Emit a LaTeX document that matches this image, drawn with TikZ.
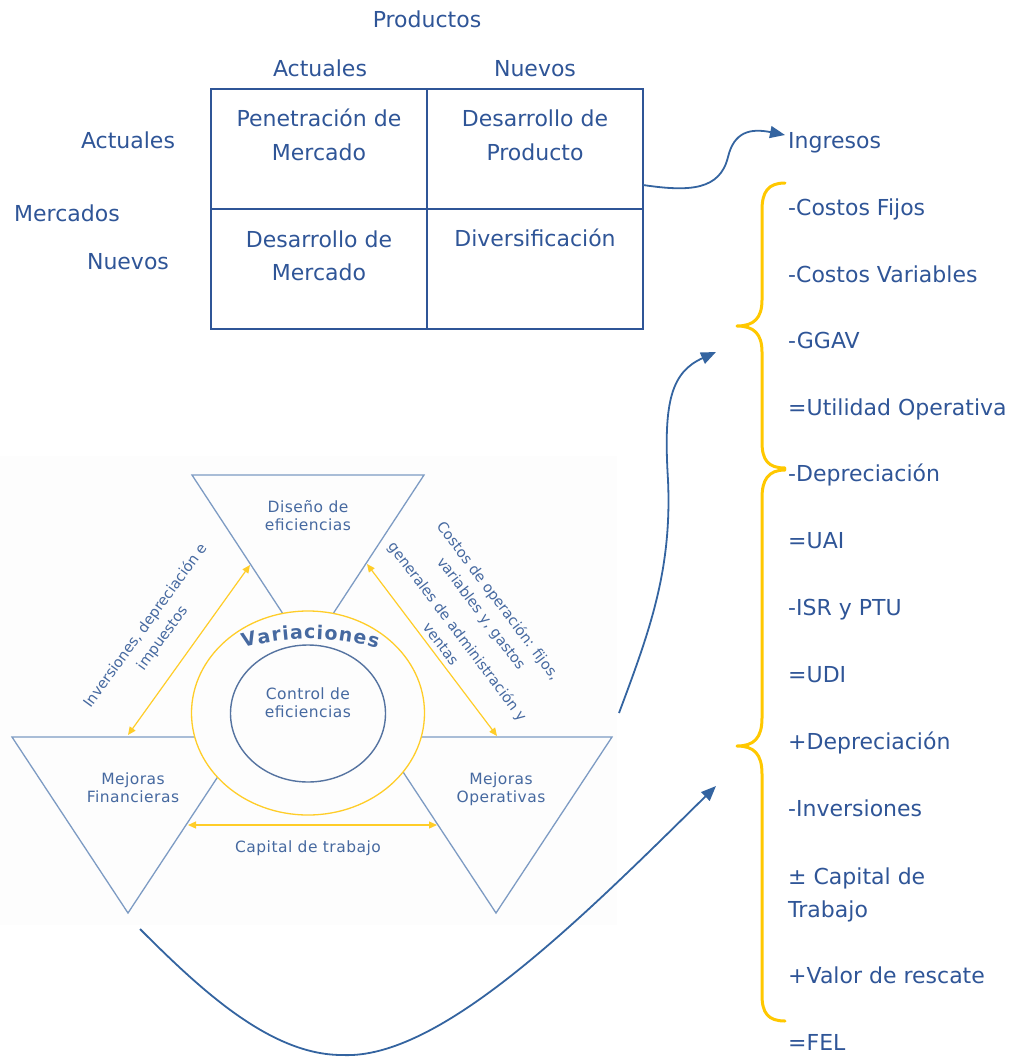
\documentclass[tikz,border=0pt]{standalone}
\usepackage{fontspec}
\setmainfont{DejaVu Sans}
\newfontfamily\trifont[LetterSpace=3]{DejaVu Sans}
\usetikzlibrary{arrows.meta,shapes.geometric}

\definecolor{ink}{RGB}{47,85,151}
\definecolor{wire}{RGB}{52,100,160}
\definecolor{tri}{RGB}{125,155,195}
\definecolor{ring}{RGB}{255,205,40}
\definecolor{soft}{RGB}{70,105,160}
\definecolor{core}{RGB}{85,115,160}
\definecolor{panel}{RGB}{253,253,253}
\definecolor{gold}{RGB}{255,200,0}

\tikzset{
  big/.style={font=\fontsize{22}{34}\selectfont, text=ink, inner sep=0pt, anchor=base},
  item/.style={big, anchor=base west},
  small/.style={font=\trifont\fontsize{15.5}{18}\selectfont, text=soft, inner sep=0pt, anchor=base},
  slant/.style={font=\fontsize{14.5}{21}\selectfont, text=soft, inner sep=0pt, align=center},
  varl/.style={font=\fontsize{19}{19}\selectfont\bfseries, text=soft, inner sep=0pt, anchor=base},
  cell/.style={draw=ink, line width=2pt, minimum width=216pt, minimum height=120pt, inner sep=0pt},
  flow/.style={draw=wire, line width=1.8pt, -{Triangle[length=15pt,width=12pt]}},
  tline/.style={draw=tri, line width=1.3pt, line join=miter},
  link/.style={draw=ring, line width=1.2pt, {Triangle[length=8pt,width=7pt]}-{Triangle[length=8pt,width=7pt]}},
  brace/.style={draw=gold, line width=3pt, line cap=round, line join=round},
}

\begin{document}
\begin{tikzpicture}[x=1pt,y=-1pt]
\useasboundingbox (0,0) rectangle (1013,1057);

% ---------- Ansoff matrix ----------
\node[big] (prod) at (427,28) {Productos};
\node[big] (colA) at (320,77) {Actuales};
\node[big] (colN) at (535,77) {Nuevos};
\node[big] (rowA) at (128,148) {Actuales};
\node[big] (merc) at (67,221) {Mercados};
\node[big] (rowN) at (128,269) {Nuevos};

\node[cell] (c11) at (319,149) {};
\node[cell] (c12) at (535,149) {};
\node[cell] (c21) at (319,269) {};
\node[cell] (c22) at (535,269) {};

\node[big] (t11a) at (319,126) {Penetración de};
\node[big] (t11b) at (319,160) {Mercado};
\node[big] (t12a) at (535,126) {Desarrollo de};
\node[big] (t12b) at (535,160) {Producto};
\node[big] (t21a) at (319,247) {Desarrollo de};
\node[big] (t21b) at (319,280) {Mercado};
\node[big] (t22a) at (535,246) {Diversificación};

% ---------- income statement column ----------
\node[item] (ing) at (788,148) {Ingresos};
\node[item] (i1)  at (788,215) {-Costos Fijos};
\node[item] (i2)  at (788,282) {-Costos Variables};
\node[item] (i3)  at (788,348) {-GGAV};
\node[item] (i4)  at (788,415) {=Utilidad Operativa};
\node[item] (i5)  at (788,481) {-Depreciación};
\node[item] (i6)  at (788,548) {=UAI};
\node[item] (i7)  at (788,615) {-ISR y PTU};
\node[item] (i8)  at (788,682) {=UDI};
\node[item] (i9)  at (788,749) {+Depreciación};
\node[item] (i10) at (788,816) {-Inversiones};
\node[item] (i11) at (788,884) {± Capital de};
\node[item] (i11b) at (788,917) {Trabajo};
\node[item] (i12) at (788,983) {+Valor de rescate};
\node[item] (i13) at (788,1050) {=FEL};

% braces
\draw[brace] (785,183) .. controls (768,183) and (762,192) .. (762,210) -- (762,300)
  .. controls (762,318) and (754,326) .. (737,326)
  .. controls (754,326) and (762,334) .. (762,352) -- (762,442)
  .. controls (762,460) and (768,468) .. (785,468);
\draw[brace] (785,470) .. controls (768,470) and (762,480) .. (762,498) -- (762,718)
  .. controls (762,738) and (754,746) .. (737,746)
  .. controls (754,746) and (762,754) .. (762,774) -- (762,995)
  .. controls (762,1013) and (768,1021) .. (785,1021);

% ---------- efficiency triangle ----------
\fill[panel] (0,456) rectangle (617,925);
\draw[tline] (192,475) -- (424,475) -- (308,652) -- cycle;
\draw[tline] (12,737) -- (244,737) -- (128,913) -- cycle;
\draw[tline] (380,737) -- (612,737) -- (496,913) -- cycle;

\node[draw=ring, fill=panel, line width=1.3pt, ellipse, minimum width=233pt, minimum height=204pt, inner sep=0pt] (outer) at (308,713) {};
\node[draw=core, line width=1.4pt, ellipse, minimum width=155pt, minimum height=137pt, inner sep=0pt] (inner) at (308,713.5) {};

\node[small] (dis1) at (308,512) {Diseño de};
\node[small] (dis2) at (308,530) {eficiencias};
\node[small] (ctl1) at (308,699.5) {Control de};
\node[small] (ctl2) at (308,717.5) {eficiencias};
\node[small] (fin1) at (133,784.5) {Mejoras};
\node[small] (fin2) at (133,802.5) {Financieras};
\node[small] (ope1) at (501,784.5) {Mejoras};
\node[small] (ope2) at (501,802.5) {Operativas};
\node[small] (cap)  at (308,852.5) {Capital de trabajo};

\foreach \ch/\px [count=\k] in {V/250.3, a/265, r/277, i/286, a/296.8, c/309.8, i/319.7, o/330.5, n/344.8, e/359, s/372}{
  \pgfmathsetmacro\py{639+(\px-309)*(\px-309)/486}
  \pgfmathsetmacro\ang{atan((309-\px)/243)}
  \node[varl, rotate=\ang] (var\k) at (\px,\py) {\ch};
}

\node[slant, rotate=54] (lefttxt) at (154,632) {Inversiones, depreciación e\\impuestos};
\node[slant, rotate=-53] (righttxt) at (470,622) {Costos de operación: fijos,\\variables y, gastos\\[9pt]generales de administración y\\ventas};

\coordinate (la1) at (250,565);
\coordinate (la2) at (128,735);
\coordinate (ra1) at (367,564);
\coordinate (ra2) at (497,736);
\coordinate (ba1) at (188,825);
\coordinate (ba2) at (437,825);
\draw[link] (la1) -- (la2);
\draw[link] (ra1) -- (ra2);
\draw[link] (ba1) -- (ba2);

% ---------- connectors ----------
\coordinate (src1) at (643,185);
\coordinate (tip1) at (785,135);
\draw[flow] (src1) .. controls (690,192) and (720,190) .. (728,157)
  .. controls (734,132) and (750,128) .. (tip1);

\coordinate (src2) at (619,713);
\coordinate (tip2) at (716,352);
\draw[flow] (src2) .. controls (650,630) and (672,570) .. (668,480)
  .. controls (663,400) and (672,372) .. (tip2);

\coordinate (src3) at (140,929);
\coordinate (tip3) at (716,786);
\draw[flow] (src3) .. controls (200,989) and (270,1055) .. (342,1055)
  .. controls (440,1060) and (580,920) .. (tip3);
\end{tikzpicture}
\end{document}
